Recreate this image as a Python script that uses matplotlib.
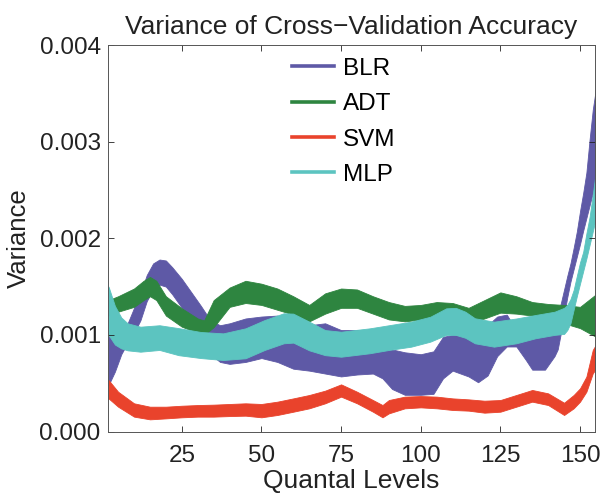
import matplotlib
matplotlib.use("Agg")
import matplotlib.pyplot as plt
from matplotlib.lines import Line2D

plt.rcParams['font.family'] = ['Liberation Sans', 'DejaVu Sans']

# ---- data (variance in units of 1e-3): upper / lower edges of each band ----
blr_x = [2, 4, 6, 8, 10, 12, 14, 16, 18, 20, 22, 25, 28, 31, 34, 37, 40, 45, 50, 55,
         60, 65, 70, 75, 80, 85, 88, 91, 95, 100, 104, 107, 110, 115, 118, 121, 124,
         127, 130, 133, 135, 139, 142, 143, 144, 145, 146, 147, 148, 149, 150, 151,
         152, 153, 154, 155]
blr_hi = [1.00, 1.05, 1.08, 1.12, 1.28, 1.43, 1.62, 1.74, 1.78, 1.77, 1.70, 1.58, 1.44,
          1.30, 1.15, 1.10, 1.12, 1.17, 1.19, 1.20, 1.12, 1.10, 1.12, 1.05, 1.05, 1.02,
          0.92, 0.85, 0.82, 0.80, 0.83, 0.98, 1.00, 0.98, 1.00, 1.10, 1.19, 1.21, 1.05,
          1.00, 1.00, 1.02, 1.10, 1.20, 1.33, 1.47, 1.61, 1.74, 1.90, 2.07, 2.28, 2.47,
          2.68, 3.02, 3.33, 3.55]
blr_lo = [0.48, 0.62, 0.80, 0.92, 1.02, 1.15, 1.35, 1.47, 1.52, 1.50, 1.42, 1.28, 1.12,
          0.95, 0.80, 0.72, 0.70, 0.72, 0.76, 0.72, 0.65, 0.63, 0.60, 0.57, 0.59, 0.60,
          0.55, 0.44, 0.38, 0.38, 0.39, 0.55, 0.63, 0.57, 0.51, 0.58, 0.78, 0.88, 0.88,
          0.74, 0.64, 0.64, 0.78, 0.85, 1.02, 1.21, 1.39, 1.55, 1.68, 1.81, 1.94, 2.08,
          2.21, 2.34, 2.47, 2.60]

adt_x = [2, 5, 10, 13, 15, 17, 20, 25, 30, 32, 35, 40, 45, 50, 55, 60, 65, 70, 75, 80,
         85, 90, 95, 100, 105, 110, 115, 120, 125, 130, 135, 140, 145, 150, 155]
adt_hi = [1.36, 1.40, 1.48, 1.56, 1.60, 1.56, 1.40, 1.275, 1.17, 1.15, 1.36, 1.49, 1.56,
          1.53, 1.48, 1.40, 1.31, 1.43, 1.48, 1.47, 1.40, 1.34, 1.30, 1.31, 1.34, 1.33,
          1.28, 1.36, 1.44, 1.40, 1.34, 1.32, 1.31, 1.29, 1.42]
adt_lo = [1.20, 1.24, 1.29, 1.36, 1.40, 1.36, 1.20, 1.085, 1.02, 1.00, 1.08, 1.29, 1.33,
          1.31, 1.26, 1.21, 1.14, 1.22, 1.28, 1.28, 1.22, 1.16, 1.14, 1.16, 1.19, 1.18,
          1.12, 1.17, 1.23, 1.22, 1.20, 1.17, 1.12, 1.07, 0.98]

svm_x = [2, 5, 10, 15, 20, 25, 30, 35, 40, 45, 50, 55, 60, 65, 70, 75, 80, 85, 88, 90,
         95, 100, 105, 110, 115, 120, 125, 130, 135, 140, 145, 148, 150, 152, 154, 155]
svm_hi = [0.533, 0.412, 0.292, 0.257, 0.257, 0.267, 0.274, 0.278, 0.285, 0.292, 0.285,
          0.309, 0.343, 0.378, 0.423, 0.488, 0.412, 0.326, 0.274, 0.326, 0.361, 0.367,
          0.361, 0.343, 0.333, 0.319, 0.326, 0.378, 0.430, 0.395, 0.298, 0.378, 0.447,
          0.568, 0.844, 0.90]
svm_lo = [0.343, 0.257, 0.154, 0.126, 0.136, 0.147, 0.154, 0.154, 0.160, 0.164, 0.147,
          0.171, 0.205, 0.240, 0.292, 0.361, 0.292, 0.205, 0.147, 0.188, 0.240, 0.250,
          0.240, 0.223, 0.216, 0.195, 0.205, 0.257, 0.309, 0.274, 0.171, 0.240, 0.309,
          0.412, 0.602, 0.65]

mlp_x = [2, 4, 6, 8, 12, 18, 24, 31, 38, 45, 51, 57, 60, 65, 70, 75, 84, 90, 97, 103,
         108, 111, 114, 117, 123, 130, 136, 142, 145, 146, 147, 148, 149, 150, 151, 152,
         153, 154, 155]
mlp_hi = [1.50, 1.30, 1.18, 1.12, 1.085, 1.10, 1.07, 1.03, 1.016, 1.068, 1.154, 1.224,
          1.22, 1.137, 1.05, 1.033, 1.068, 1.10, 1.137, 1.188, 1.275, 1.28, 1.24, 1.172,
          1.137, 1.17, 1.206, 1.24, 1.28, 1.31, 1.37, 1.465, 1.61, 1.75, 1.86, 2.05,
          2.22, 2.45, 2.70]
mlp_lo = [1.00, 0.90, 0.86, 0.84, 0.826, 0.844, 0.79, 0.76, 0.74, 0.758, 0.844, 0.913,
          0.92, 0.84, 0.79, 0.774, 0.81, 0.844, 0.878, 0.93, 1.00, 1.00, 0.97, 0.913,
          0.878, 0.913, 0.965, 1.00, 1.01, 1.05, 1.12, 1.26, 1.40, 1.53, 1.66, 1.79,
          1.93, 2.07, 2.21]

labels = ["BLR", "ADT", "SVM", "MLP"]
colors = ["#5e59a6", "#2e8540", "#e9432c", "#5cc4c0"]
x_ticks = [25, 50, 75, 100, 125, 150]
y_ticks = [0.000, 0.001, 0.002, 0.003, 0.004]
y_ticklabels = ["0.000", "0.001", "0.002", "0.003", "0.004"]

# ---- plot ----
fig = plt.figure(figsize=(6.01, 4.93), dpi=100)
ax = fig.add_axes([0.179, 0.1247, 0.811, 0.784])

series = [(blr_x, blr_hi, blr_lo), (adt_x, adt_hi, adt_lo),
          (svm_x, svm_hi, svm_lo), (mlp_x, mlp_hi, mlp_lo)]
for (xs, hi, lo), c in zip(series, colors):
    ax.fill_between(xs, [v * 1e-3 for v in lo], [v * 1e-3 for v in hi],
                    color=c, linewidth=0.6, edgecolor=c)

ax.set_xlim(1.7, 154.7)
ax.set_ylim(0, 0.004)
ax.set_xticks(x_ticks)
ax.set_yticks(y_ticks)
ax.set_yticklabels(y_ticklabels)
ax.tick_params(direction='in', length=4, width=0.6, top=True, right=True,
               labelsize=17.5, colors='#222222')
ax.tick_params(axis='x', pad=10)
ax.tick_params(axis='y', pad=5)
for s in ax.spines.values():
    s.set_linewidth(0.7)
    s.set_color('#555555')

ax.set_title("Variance of Cross\u2212Validation Accuracy", fontsize=19,
             color='#222222', pad=8)
ax.set_xlabel("Quantal Levels", fontsize=19, color='#222222', labelpad=1)
ax.set_ylabel("Variance", fontsize=18.5, color='#222222', labelpad=6)

handles = [Line2D([0], [0], color=c, lw=2.6) for c in colors]
ax.legend(handles, labels, loc='upper left', bbox_to_anchor=(0.378, 0.967),
          frameon=False, fontsize=17.5, handlelength=1.75, handletextpad=0.35,
          labelspacing=0.55, borderpad=0, borderaxespad=0)

fig.savefig("out.png", dpi=100, facecolor='white')
